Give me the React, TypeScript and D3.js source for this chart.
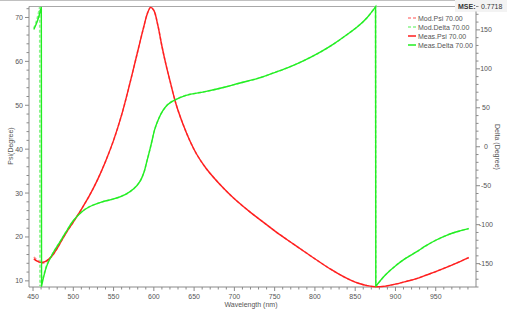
import React from "react";
import * as d3 from "d3";

const W = 507;
const H = 312;

// Wavelength (nm) / Psi
const psiWl = [451, 455, 460, 465, 470, 475, 480, 490, 500, 510, 520, 530, 540, 550, 560, 570, 580, 587, 592, 596, 600, 605, 610, 615, 620, 628, 636, 645, 653, 665, 686, 700, 720, 735, 750, 770, 789, 805, 820, 835, 845, 855, 865, 875, 888, 901, 914, 926, 938, 950, 962, 975, 991];
const measPsi = [15.0, 14.5, 14.2, 14.4, 15.0, 16.0, 17.4, 20.6, 23.4, 26.3, 29.4, 33.0, 37.2, 42.0, 47.8, 54.8, 62.3, 67.5, 70.9, 72.3, 71.6, 68.2, 63.5, 59.3, 55.6, 50.0, 45.8, 41.8, 38.9, 35.6, 31.2, 28.7, 25.6, 23.5, 21.4, 18.8, 16.4, 14.4, 12.6, 11.0, 10.1, 9.4, 8.9, 8.65, 8.8, 9.3, 9.9, 10.5, 11.3, 12.1, 13.0, 14.0, 15.3];
const modPsi = [15.4, 14.8, 14.0, 14.2, 14.9, 16.0, 17.4, 20.6, 23.4, 26.3, 29.4, 33.0, 37.2, 42.0, 47.8, 54.8, 62.3, 67.5, 70.9, 72.3, 71.6, 68.2, 63.5, 59.3, 55.6, 50.0, 45.8, 41.8, 38.9, 35.6, 31.2, 28.7, 25.6, 23.5, 21.4, 18.8, 16.4, 14.4, 12.6, 11.0, 10.1, 9.4, 8.9, 8.65, 8.8, 9.3, 9.9, 10.5, 11.3, 12.1, 13.0, 14.0, 15.3];

// Wavelength (nm) / Delta
const deltaWl = [451, 455, 458, 460.3, 460.6, 463, 467, 475, 483.5, 490, 500, 510, 520, 535, 550, 565, 575, 583, 588, 591, 595, 598, 601, 606, 611, 617, 624, 640, 665, 690, 706, 730, 748, 765, 781, 795, 806, 822, 840, 855, 865, 875.3, 875.6, 888, 901, 913, 926, 938, 950, 965, 980, 991];
const measDelta = [150.5, 160, 170, 179.5, -179, -168, -153, -136, -122, -111, -95, -84, -77, -71, -67, -61, -54, -44, -32, -20, -4, 9, 22, 36, 46, 54, 59, 66, 71, 77, 81.5, 88, 94.5, 101, 108, 115, 121, 131, 144, 156, 166, 179.5, -179, -164, -152, -143, -135, -127, -120, -113, -108, -105];
const modDeltaWl = [451, 455, 458.3, 458.6, 463, 467, 475, 483.5, 490, 500, 510, 520, 535, 550, 565, 575, 583, 588, 591, 595, 598, 601, 606, 611, 617, 624, 640, 665, 690, 706, 730, 748, 765, 781, 795, 806, 822, 840, 855, 865, 875.3, 875.6, 888, 901, 913, 926, 938, 950, 965, 980, 991];
const modDelta = [152, 164, 179.5, -179, -166, -152, -136, -122, -111, -95, -84, -77, -71, -67, -61, -54, -44, -32, -20, -4, 9, 22, 36, 46, 54, 59, 66, 71, 77, 81.5, 88, 94.5, 101, 108, 115, 121, 131, 144, 156, 166, 179.5, -179, -164, -152, -143, -135, -127, -120, -113, -108, -105];

const xTicks = [450, 500, 550, 600, 650, 700, 750, 800, 850, 900, 950];
const psiTicks = [10, 20, 30, 40, 50, 60, 70];
const deltaTicks = [-150, -100, -50, 0, 50, 100, 150];
const legendLabels = ["Mod.Psi 70.00", "Mod.Delta 70.00", "Meas.Psi 70.00", "Meas.Delta 70.00"];
const mseLabel = "MSE:";
const mseValue = "0.7718";

const RED = "#ff1e1e";
const GREEN = "#22ee22";
const PINK = "#ff8a8a";
const LGREEN = "#8af58a";

export default function App() {
  const L = 29, R = 476, T = 6.5, B = 287;
  const x = d3.scaleLinear().domain([445, 1000]).range([L, R]);
  const yP = d3.scaleLinear().domain([8.6, 72.5]).range([B, T]);
  const yD = d3.scaleLinear().domain([-180, 180]).range([B, T]);

  // smooth path; wrap-arounds (jumps > 180) drawn as straight connectors
  const mk = (xs: number[], ys: number[], sy: d3.ScaleLinear<number, number>) => {
    const pts: [number, number][] = ys.map((v, i) => [x(xs[i]), sy(v)]);
    const segs: [number, number][][] = [[]];
    pts.forEach((p, i) => {
      if (i > 0 && Math.abs(ys[i] - ys[i - 1]) > 180) segs.push([]);
      segs[segs.length - 1].push(p);
    });
    const gen = d3.line().curve(d3.curveCatmullRom.alpha(0.5));
    let d = "";
    segs.forEach((s, k) => {
      const sp = gen(s) || "";
      if (k === 0) d += sp;
      else d += "L" + s[0][0] + "," + s[0][1] + sp.replace(/^M[^A-Za-z]*/, "");
    });
    return d;
  };

  const xMinor = d3.range(450, 1000, 10);
  const pMinor = d3.range(10, 73, 2);
  const dMinor = d3.range(-180, 181, 10);
  const font = "'Liberation Sans', Arial, sans-serif";
  const tc = "#555";
  const ac = "#8a8a8a";

  const legendColors = [PINK, LGREEN, RED, GREEN];
  const legendDash = ["3,2", "3,2", "", ""];

  return (
    <svg width={W} height={H} style={{ position: "fixed", left: 0, top: 0, background: "#fff" }} fontFamily={font}>
      <rect x={0} y={0} width={W} height={H} fill="#fff" />
      <line x1={0} x2={455} y1={0.5} y2={0.5} stroke="#c0c0c0" />
      <line x1={L} x2={455} y1={T} y2={T} stroke="#a8a8a8" />
      <rect x={455} y={0} width={52} height={12} fill="#f3f3f3" />
      <text x={458} y={9} fontSize={7} fontWeight="bold" fill="#333">{mseLabel}</text>
      <text x={481} y={9} fontSize={7} fill="#333">{mseValue}</text>

      {/* axes */}
      <line x1={L} x2={L} y1={T} y2={B} stroke={ac} />
      <line x1={R} x2={R} y1={T + 5} y2={B} stroke={ac} />
      <line x1={L} x2={R} y1={B} y2={B} stroke={ac} />

      {xMinor.map((v) => (
        <line key={"xm" + v} x1={x(v)} x2={x(v)} y1={B} y2={B + (v % 50 === 0 ? 4 : 2.5)} stroke={ac} />
      ))}
      {xTicks.map((v) => (
        <text key={"xt" + v} x={x(v)} y={299} fontSize={7} fill={tc} textAnchor="middle">{v}</text>
      ))}
      {pMinor.map((v) => (
        <line key={"pm" + v} x1={L} x2={L - (v % 10 === 0 ? 4 : 2.5)} y1={yP(v)} y2={yP(v)} stroke={ac} />
      ))}
      {psiTicks.map((v) => (
        <text key={"pt" + v} x={23} y={yP(v) + 2.5} fontSize={7} fill={tc} textAnchor="end">{v}</text>
      ))}
      {dMinor.map((v) => (
        <line key={"dm" + v} x1={R} x2={R + (v % 50 === 0 ? 4 : 2.5)} y1={yD(v)} y2={yD(v)} stroke={ac} />
      ))}
      {deltaTicks.map((v) => (
        <text key={"dt" + v} x={486} y={yD(v) + 2.5} fontSize={7} fill={tc} textAnchor="middle">{v}</text>
      ))}

      <text x={251} y={307} fontSize={7} fill={tc} textAnchor="middle">Wavelength (nm)</text>
      <text transform={`translate(13,146) rotate(-90)`} fontSize={7} fill={tc} textAnchor="middle">Psi(Degree)</text>
      <text transform={`translate(495,147) rotate(90)`} fontSize={7} fill={tc} textAnchor="middle">Delta (Degree)</text>

      {/* curves */}
      <path d={mk(psiWl, modPsi, yP)} fill="none" stroke={PINK} strokeWidth={1.6} strokeDasharray="3,2" />
      <path d={mk(modDeltaWl, modDelta, yD)} fill="none" stroke={LGREEN} strokeWidth={1.6} strokeDasharray="3,2" />
      <path d={mk(psiWl, measPsi, yP)} fill="none" stroke={RED} strokeWidth={1.4} />
      <path d={mk(deltaWl, measDelta, yD)} fill="none" stroke={GREEN} strokeWidth={1.4} />

      {/* legend */}
      {legendLabels.map((lab, i) => (
        <g key={lab} transform={`translate(408,${18 + i * 9})`}>
          <line x1={0} x2={8} y1={0} y2={0} stroke={legendColors[i]} strokeWidth={1.5} strokeDasharray={legendDash[i] || undefined} />
          <text x={10} y={2.5} fontSize={7} fill={tc}>{lab}</text>
        </g>
      ))}
    </svg>
  );
}
